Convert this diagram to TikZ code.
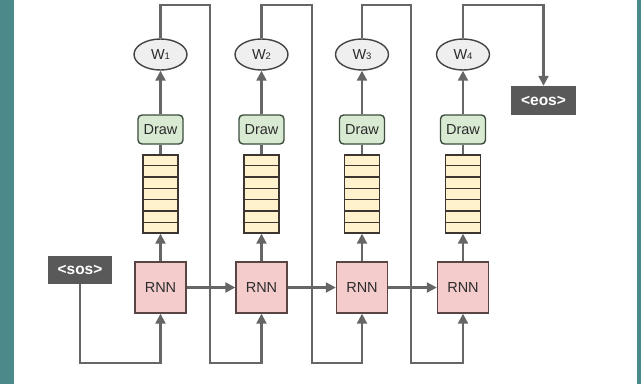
\documentclass[tikz,border=0pt]{standalone}
\usepackage{fontspec}
\setmainfont{Liberation Sans}
\usetikzlibrary{arrows.meta,calc,shapes.geometric}
\definecolor{tealbg}{HTML}{4B8A8A}
\definecolor{conncol}{HTML}{666666}
\definecolor{rnnfill}{HTML}{F4CCCC}
\definecolor{rnnline}{HTML}{5A4545}
\definecolor{drawfill}{HTML}{D9EAD3}
\definecolor{drawline}{HTML}{3D4D3D}
\definecolor{stackfill}{HTML}{FFF2CC}
\definecolor{stackline}{HTML}{3D3530}
\definecolor{wfill}{HTML}{EFEFEF}
\definecolor{wline}{HTML}{434343}
\definecolor{tokfill}{HTML}{595959}
\definecolor{txtcol}{HTML}{2B2B2B}
\newcommand{\wsub}[1]{W\raisebox{-0.5pt}{\fontsize{9.5}{9.5}\selectfont #1}}
\tikzset{
  rnnbox/.style={draw=rnnline, fill=rnnfill, line width=1.4pt, minimum width=51pt, minimum height=51pt, inner sep=0pt, text=txtcol, font=\fontsize{14.5}{14.5}\selectfont},
  drawbox/.style={draw=drawline, fill=drawfill, line width=1.4pt, rounded corners=4pt, minimum width=45pt, minimum height=29pt, inner sep=0pt, text=txtcol, font=\fontsize{14.5}{14.5}\selectfont},
  stackbox/.style={draw=stackline, fill=stackfill, line width=1.4pt, minimum width=35pt, minimum height=78pt, inner sep=0pt},
  wnode/.style={ellipse, draw=wline, fill=wfill, line width=1.4pt, minimum width=53pt, minimum height=31pt, inner sep=0pt, text=txtcol, font=\fontsize{14.5}{14.5}\selectfont},
  tokbox/.style={fill=tokfill, minimum width=64pt, minimum height=28pt, inner sep=0pt, text=white, font=\fontsize{15.5}{15.5}\selectfont\bfseries},
  conn/.style={draw=conncol, line width=2.2pt, -{Triangle[length=10pt,width=10pt]}},
  plain/.style={draw=conncol, line width=2.2pt},
  cellline/.style={draw=stackline, line width=1.4pt}
}
\begin{document}
\begin{tikzpicture}[x=1pt,y=-1pt]
\fill[tealbg] (0,0) rectangle (641,384);
\fill[white] (14,0) rectangle (637,384);
\useasboundingbox (0,0) rectangle (641,384);

\foreach \i/\cx in {1/160.5,2/261.5,3/362,4/463}{
  \node[wnode] (w\i) at (\cx,54.5) {\wsub{\i}};
  \node[drawbox] (d\i) at (\cx,129.5) {Draw};
  \node[stackbox] (s\i) at (\cx,194) {};
  \node[rnnbox] (r\i) at (\cx,287.5) {RNN};
  \foreach \k in {1,...,6}{
    \draw[cellline] ($(s\i.north west)!\k/7!(s\i.south west)$) -- ($(s\i.north east)!\k/7!(s\i.south east)$);
  }
  \draw[conn] (r\i.north) -- (s\i.south);
  \draw[plain] (s\i.north) -- (d\i.south);
  \draw[conn] (d\i.north) -- (w\i.south);
}

\node[tokbox] (sos) at (80,270) {<sos>};
\node[tokbox, minimum width=65pt, minimum height=29pt] (eos) at (543.5,100.5) {<eos>};

\draw[conn] (r1.east) -- (r2.west);
\draw[conn] (r2.east) -- (r3.west);
\draw[conn] (r3.east) -- (r4.west);

\coordinate (b0) at (80,363);
\draw[conn] (sos.south) -- (b0) -| (r1.south);

\coordinate (k1) at (210,5);
\coordinate (b1) at (210,363);
\coordinate (k2) at (312,5);
\coordinate (b2) at (312,363);
\coordinate (k3) at (411,5);
\coordinate (b3) at (411,363);
\coordinate (k4) at (543.5,5);

\draw[conn] (w1.north) |- (k1) -- (b1) -| (r2.south);
\draw[conn] (w2.north) |- (k2) -- (b2) -| (r3.south);
\draw[conn] (w3.north) |- (k3) -- (b3) -| (r4.south);
\draw[conn] (w4.north) |- (k4) -- (eos.north);
\end{tikzpicture}
\end{document}
